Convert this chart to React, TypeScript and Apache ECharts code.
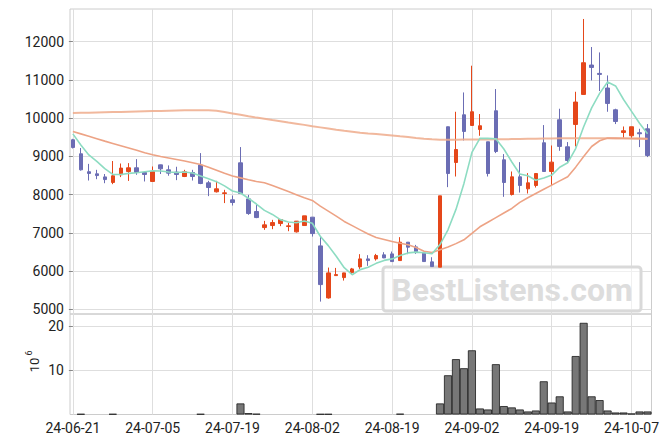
import { useEffect, useRef } from "react";
import * as echarts from "echarts";

const dates = [
  "24-06-21", "24-06-24", "24-06-25", "24-06-26", "24-06-27", "24-06-28",
  "24-07-01", "24-07-02", "24-07-03", "24-07-04", "24-07-05",
  "24-07-08", "24-07-09", "24-07-10", "24-07-11", "24-07-12",
  "24-07-15", "24-07-16", "24-07-17", "24-07-18", "24-07-19",
  "24-07-22", "24-07-23", "24-07-24", "24-07-25", "24-07-26",
  "24-07-29", "24-07-30", "24-07-31", "24-08-01", "24-08-02",
  "24-08-05", "24-08-06", "24-08-07", "24-08-08", "24-08-09",
  "24-08-12", "24-08-13", "24-08-14", "24-08-16",
  "24-08-19", "24-08-20", "24-08-21", "24-08-22", "24-08-23",
  "24-08-26", "24-08-27", "24-08-28", "24-08-29", "24-08-30",
  "24-09-02", "24-09-03", "24-09-04", "24-09-05", "24-09-06",
  "24-09-09", "24-09-10", "24-09-11", "24-09-12", "24-09-13",
  "24-09-19", "24-09-20",
  "24-09-23", "24-09-24", "24-09-25", "24-09-26", "24-09-27",
  "24-09-30", "24-10-02", "24-10-04",
  "24-10-07", "24-10-08", "24-10-10",
];

const opens = [
  9435, 9069, 8600, 8545, 8465, 8320, 8520, 8605, 8703, 8580,
  8345, 8780, 8650, 8590, 8475, 8580, 8773, 8310, 8075, 8030,
  7865, 8833, 7890, 7560, 7140, 7193, 7245, 7167, 7028, 7193,
  7412, 6661, 5300, 5884, 5832, 5962, 6112, 6321, 6321, 6426,
  6452, 6277, 6758, 6635, 6470, 6243, 6104, 9776, 8841, 10089,
  9810, 9705, 9383, 10194, 8912, 8004, 8467, 8153, 8240, 9357,
  8606, 9959, 9252, 9836, 10621, 11390, 11171, 10789, 10220, 9627,
  9540, 9619, 9723,
];
const closes = [
  9234, 8650, 8555, 8500, 8395, 8493, 8695, 8703, 8580, 8528,
  8606, 8676, 8563, 8528, 8598, 8475, 8292, 8187, 8153, 8048,
  7795, 8030, 7507, 7402, 7211, 7271, 7350, 7185, 7308, 7446,
  6983, 5649, 5955, 5910, 5955, 6059, 6321, 6277, 6408, 6347,
  6251, 6758, 6627, 6512, 6251, 6120, 7970, 8553, 9181, 9653,
  10168, 9802, 8553, 9129, 8318, 8467, 8240, 8310, 8553, 8606,
  8851, 9261, 8894, 10422, 11450, 11327, 11145, 10385, 9914, 9671,
  9776, 9593, 9025,
];
const lows = [
  9208, 8630, 8370, 8405, 8300, 8275, 8460, 8360, 8520, 8345,
  8335, 8540, 8495, 8380, 8460, 8370, 8275, 7962, 8057, 7780,
  7716, 8020, 7473, 7386, 7080, 7098, 7177, 7045, 7010, 7190,
  6905, 5204, 5282, 5876, 5754, 5920, 6059, 6138, 6277, 6340,
  6250, 6270, 6444, 6452, 6250, 6120, 6104, 8197, 8475, 9417,
  9800, 9540, 8475, 9087, 7944, 7978, 8056, 8030, 8187, 8600,
  8240, 9147, 8833, 9261, 10620, 10987, 10710, 10168, 9846, 9488,
  9470, 9244, 8983,
];
const highs = [
  9460, 9220, 8805, 8650, 8540, 8880, 8815, 8825, 8930, 8590,
  8737, 8785, 8765, 8730, 8650, 8650, 9087, 8362, 8362, 8127,
  7977, 9245, 7995, 7752, 7315, 7342, 7360, 7263, 7310, 7446,
  7412, 6905, 6094, 6085, 5960, 6085, 6444, 6418, 6452, 6496,
  6513, 6889, 6760, 6687, 6470, 6365, 7970, 9780, 10168, 10673,
  11372, 10108, 9383, 10762, 9061, 8606, 8851, 8564, 8564, 9820,
  9286, 10247, 9375, 10691, 12594, 11861, 11720, 11118, 10247, 9783,
  9776, 9723, 9846,
];
// volume in millions (axis label 10^6)
const volumes = [
  0, 0.12, 0, 0, 0, 0.12, 0, 0, 0, 0,
  0, 0, 0, 0, 0, 0, 0.12, 0, 0, 0,
  0, 2.5, 0.3, 0.15, 0, 0, 0, 0, 0, 0,
  0, 0.1, 0.1, 0, 0, 0, 0, 0, 0, 0,
  0, 0.15, 0, 0, 0, 0, 2.5, 8.86, 12.5, 10.45,
  14.5, 1.36, 1.13, 11.36, 1.9, 1.6, 1.13, 0.68, 0.9, 7.5,
  2.7, 4.1, 0.68, 13.2, 20.7, 4.1, 3.25, 0.9, 0.45, 0.45,
  0.23, 0.68, 0.68,
];
const ma5 = [
  9590, 9300, 9040, 8870, 8680, 8530, 8528, 8557, 8573, 8600,
  8622, 8619, 8591, 8580, 8594, 8568, 8491, 8416, 8341, 8231,
  8095, 8043, 7907, 7756, 7589, 7484, 7348, 7284, 7265, 7312,
  7254, 6914, 6668, 6389, 6090, 5906, 6040, 6104, 6204, 6282,
  6321, 6408, 6478, 6499, 6480, 6454, 6696, 7081, 7615, 8295,
  9105, 9471, 9471, 9461, 9194, 8854, 8541, 8493, 8378, 8435,
  8512, 8716, 8833, 9207, 9776, 10271, 10648, 10946, 10844, 10488,
  10178, 9868, 9596,
];
const ma20 = [
  9650, 9590, 9530, 9465, 9400, 9340, 9280, 9220, 9160, 9095,
  9045, 9000, 8960, 8920, 8880, 8835, 8790, 8720, 8640, 8560,
  8490, 8440, 8390, 8345, 8310, 8240, 8160, 8080, 8000, 7920,
  7850, 7700, 7570, 7440, 7300, 7190, 7080, 6970, 6880, 6830,
  6775, 6730, 6690, 6620, 6520, 6490, 6560, 6630, 6720, 6820,
  6990, 7160, 7280, 7400, 7520, 7640, 7800, 7920, 8030, 8140,
  8250, 8360, 8470, 8720, 9000, 9260, 9410, 9480, 9480, 9475,
  9470, 9465, 9460,
];
const ma60 = [
  10135, 10140, 10145, 10150, 10155, 10160, 10165, 10170, 10175, 10180,
  10185, 10190, 10195, 10200, 10205, 10208, 10210, 10210, 10195, 10160,
  10125, 10090, 10050, 10015, 9985, 9950, 9920, 9885, 9855, 9825,
  9790, 9760, 9730, 9697, 9670, 9645, 9620, 9600, 9585, 9565,
  9545, 9525, 9506, 9485, 9465, 9450, 9437, 9435, 9438, 9440,
  9442, 9444, 9446, 9448, 9450, 9453, 9456, 9460, 9464, 9468,
  9472, 9476, 9478, 9478, 9477, 9476, 9475, 9474, 9472, 9470,
  9469, 9467, 9465,
];

const xTickIdx = [0, 10, 20, 30, 40, 50, 60, 70];
const priceTicks = [5000, 6000, 7000, 8000, 9000, 10000, 11000, 12000];
const volTicks = [10, 20];

const UP = "#e5471a";
const DOWN = "#6b6db4";
const GRID = "#dedede";
const FONT = "Roboto";

export default function App() {
  const ref = useRef<HTMLDivElement>(null);
  useEffect(() => {
    const chart = echarts.init(ref.current!, null, { renderer: "svg" });
    const xCommon = {
      type: "value",
      min: -0.36,
      max: 72.5,
      axisLine: { show: false },
      splitLine: { show: true, lineStyle: { color: GRID, width: 1 } },
    };
    const option = {
      animation: false,
      textStyle: { fontFamily: FONT },
      grid: [
        { left: 70, right: 19.5, top: 9, height: 305, show: true, borderColor: "#cccccc", borderWidth: 1 },
        { left: 70, right: 19.5, top: 314, height: 100.5, show: true, borderColor: "#cccccc", borderWidth: 1 },
      ],
      xAxis: [
        {
          ...xCommon,
          gridIndex: 0,
          axisTick: { show: false, customValues: xTickIdx },
          axisLabel: { show: false, customValues: xTickIdx },
        },
        {
          ...xCommon,
          gridIndex: 1,
          axisTick: { show: false, customValues: xTickIdx },
          axisLabel: {
            show: true,
            customValues: xTickIdx,
            formatter: (v: number) => dates[Math.round(v)] ?? "",
            color: "#222",
            fontSize: 14,
            fontFamily: FONT,
            margin: 6,
          },
        },
      ],
      yAxis: [
        {
          type: "value",
          gridIndex: 0,
          min: 4880,
          max: 12855,
          axisLine: { show: false },
          axisTick: { show: true, length: 4, lineStyle: { color: "#888" }, customValues: priceTicks },
          axisLabel: {
            customValues: priceTicks,
            formatter: (v: number) => String(v),
            color: "#222",
            fontSize: 14,
            fontFamily: FONT,
            margin: 6,
          },
          splitLine: { show: true, lineStyle: { color: GRID, width: 1 } },
        },
        {
          type: "value",
          gridIndex: 1,
          min: 0,
          max: 22.7,
          axisLine: { show: false },
          axisTick: { show: true, length: 4, lineStyle: { color: "#888" }, customValues: volTicks },
          axisLabel: {
            customValues: volTicks,
            formatter: (v: number) => String(v),
            color: "#222",
            fontSize: 14,
            fontFamily: FONT,
            margin: 6,
          },
          splitLine: { show: true, lineStyle: { color: GRID, width: 1 } },
        },
      ],
      series: [
        {
          type: "candlestick",
          xAxisIndex: 0,
          yAxisIndex: 0,
          barWidth: 4,
          encode: { x: 0, y: [1, 2, 3, 4] },
          data: opens.map((o, i) => [i, o, closes[i], lows[i], highs[i]]),
          itemStyle: {
            color: UP,
            color0: DOWN,
            borderColor: UP,
            borderColor0: DOWN,
            borderWidth: 1,
          },
          emphasis: { disabled: true },
          z: 2,
        },
        {
          type: "line",
          xAxisIndex: 0,
          yAxisIndex: 0,
          data: ma60.map((v, i) => [i, v]),
          showSymbol: false,
          lineStyle: { color: "#efab8c", width: 2, opacity: 0.85 },
          emphasis: { disabled: true },
          z: 3,
        },
        {
          type: "line",
          xAxisIndex: 0,
          yAxisIndex: 0,
          data: ma20.map((v, i) => [i, v]),
          showSymbol: false,
          lineStyle: { color: "#eda385", width: 1.6 },
          emphasis: { disabled: true },
          z: 3,
        },
        {
          type: "line",
          xAxisIndex: 0,
          yAxisIndex: 0,
          data: ma5.map((v, i) => [i, v]),
          showSymbol: false,
          lineStyle: { color: "#8ddcc2", width: 1.6 },
          emphasis: { disabled: true },
          z: 3,
        },
        {
          type: "bar",
          xAxisIndex: 1,
          yAxisIndex: 1,
          barWidth: 8,
          data: volumes.map((v, i) => [i, v]).filter((d) => d[1] > 0),
          itemStyle: { color: "#777777", borderColor: "#1a1a1a", borderWidth: 0.8 },
          emphasis: { disabled: true },
        },
      ],
      graphic: [
        {
          type: "rect",
          shape: { x: 383, y: 267, width: 258, height: 44, r: 3 },
          style: { fill: "rgba(255,255,255,0.55)", stroke: "#d9d9d9", lineWidth: 3 },
          z: 1,
        },
        {
          type: "text",
          x: 512,
          y: 290,
          style: {
            text: "BestListens.com",
            font: "bold 32px Roboto",
            fill: "#dddddd",
            textAlign: "center",
            textVerticalAlign: "middle",
            align: "center",
            verticalAlign: "middle",
          },
          z: 1,
        },
        {
          type: "group",
          x: 34,
          y: 365,
          rotation: Math.PI / 2,
          children: [
            {
              type: "text",
              x: 0,
              y: 0,
              style: {
                text: "10",
                font: "13px Roboto",
                fill: "#222",
                textAlign: "center",
                textVerticalAlign: "middle",
                align: "center",
                verticalAlign: "middle",
              },
            },
            {
              type: "text",
              x: 12,
              y: -5,
              style: {
                text: "6",
                font: "9px Roboto",
                fill: "#222",
                textAlign: "center",
                textVerticalAlign: "middle",
                align: "center",
                verticalAlign: "middle",
              },
            },
          ],
        },
      ],
    };
    chart.setOption(option as any);
    return () => chart.dispose();
  }, []);
  return (
    <div
      ref={ref}
      style={{ position: "fixed", left: 0, top: 0, width: 671, height: 444, background: "#fff" }}
    />
  );
}
